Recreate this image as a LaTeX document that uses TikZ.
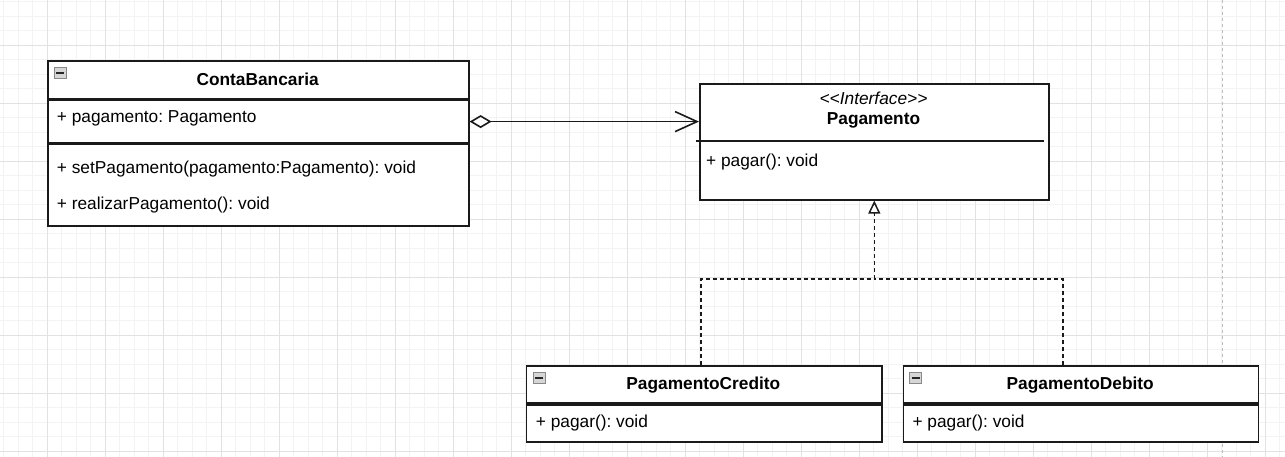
\documentclass[tikz,border=0pt]{standalone}
\usepackage{fontspec}
\setmainfont{Liberation Sans}
\usetikzlibrary{arrows.meta}
\frenchspacing

\definecolor{gridminor}{HTML}{F3F3F3}
\definecolor{gridmajor}{HTML}{E2E2E2}
\definecolor{pagebreak}{HTML}{BDBDBD}
\definecolor{umlline}{HTML}{1A1A1A}
\definecolor{iconfill}{HTML}{D6D6D6}
\definecolor{iconedge}{HTML}{888888}

\begin{document}
\begin{tikzpicture}[x=1pt,y=-1pt,
  minorline/.style={draw=gridminor, line width=0.8pt},
  majorline/.style={draw=gridmajor, line width=0.8pt},
  umlbox/.style={draw=umlline, line width=1.6pt, fill=white, rectangle,
    inner sep=0pt, anchor=north west},
  txt/.style={inner sep=0pt, font=\fontsize{17.3pt}{20pt}\selectfont, text=black},
  minusicon/.style={draw=iconedge, line width=0.8pt, fill=iconfill, rectangle,
    inner sep=0pt, minimum width=12pt, minimum height=11pt, anchor=north west,
    path picture={\draw[line width=1.8pt, black!85]
      ([xshift=2pt]path picture bounding box.west) --
      ([xshift=-2pt]path picture bounding box.east);}},
  aggregation/.style={draw=umlline, line width=1.6pt,
    {Diamond[length=22pt, width=13pt, fill=white]}-{Straight Barb[length=22pt, width=20pt]}},
  realization/.style={draw=umlline, line width=1.5pt, dash pattern=on 4pt off 3pt},
]
% canvas and grid
\useasboundingbox (0,0) rectangle (1285,457);
\fill[white] (0,0) rectangle (1285,457);
\foreach \i in {0,...,88}
  \draw[minorline] ({3.5+14.5*\i},0) -- ({3.5+14.5*\i},457);
\foreach \j in {0,...,31}
  \draw[minorline] (0,{1.8+14.5*\j}) -- (1285,{1.8+14.5*\j});
\foreach \i in {0,...,21}
  \draw[majorline] ({47+58*\i},0) -- ({47+58*\i},457);
\foreach \j in {0,...,7}
  \draw[majorline] (0,{45.3+58*\j}) -- (1285,{45.3+58*\j});
% page boundary
\draw[pagebreak, line width=0.9pt, dash pattern=on 3pt off 3pt] (1222,0) -- (1222,457);

% ContaBancaria
\node[umlbox, minimum width=420.7pt, minimum height=37.7pt] (cbT) at (47.3,60) {};
\node[umlbox, minimum width=420.7pt, minimum height=43pt] (cbA) at (cbT.south west) {};
\node[umlbox, minimum width=420.7pt, minimum height=81.3pt] (cbM) at (cbA.south west) {};
\node[minusicon] (cbI) at (54,67) {};
\node[txt, anchor=base] (cbName) at (257.65,86) {\bfseries ContaBancaria};
\node[txt, anchor=base west] (cbAttr) at (56.7,123) {+ pagamento: Pagamento};
\node[txt, anchor=base west] (cbM1) at (56.7,173.3) {+ setPagamento(pagamento:Pagamento): void};
\node[txt, anchor=base west] (cbM2) at (56.7,210) {+ realizarPagamento(): void};

% Pagamento interface
\node[umlbox, minimum width=349pt, minimum height=115.7pt] (pg) at (699,83.3) {};
\draw[umlline, line width=1.6pt] (696,141.3) -- (1044,141.3);
\node[txt, anchor=base] (pgSt) at (873.5,104.3) {\itshape <{}<Interface>{}>};
\node[txt, anchor=base] (pgName) at (873.5,124.3) {\bfseries Pagamento};
\node[txt, anchor=base west] (pgOp) at (706,167) {+ pagar(): void};

% PagamentoCredito
\node[umlbox, minimum width=355.3pt, minimum height=37.3pt] (pcT) at (525.7,365) {};
\node[umlbox, minimum width=355.3pt, minimum height=37pt] (pcA) at (pcT.south west) {};
\node[minusicon] (pcI) at (532.7,371.7) {};
\node[txt, anchor=base] (pcName) at (703.35,389.3) {\bfseries PagamentoCredito};
\node[txt, anchor=base west] (pcOp) at (535.7,427.7) {+ pagar(): void};

% PagamentoDebito
\node[umlbox, minimum width=355pt, minimum height=37.3pt] (pdT) at (902.7,365) {};
\node[umlbox, minimum width=355pt, minimum height=37pt] (pdA) at (pdT.south west) {};
\node[minusicon] (pdI) at (909.3,371.7) {};
\node[txt, anchor=base] (pdName) at (1080.2,389.3) {\bfseries PagamentoDebito};
\node[txt, anchor=base west] (pdOp) at (912.3,427.7) {+ pagar(): void};

% aggregation ContaBancaria -> Pagamento
\draw[aggregation] (cbA.east) -- (pg.west |- cbA.east);

% realization of the interface
\path (pg.south) ++(0,78.3) coordinate (bend);
\draw[realization] ([xshift=-3.35pt]pcT.north) |- (bend);
\draw[realization] ([xshift=-17.9pt]pdT.north) |- (bend);
\draw[realization, -{Triangle[open, length=13pt, width=12pt, fill=white]}] (bend) -- (pg.south);
\end{tikzpicture}
\end{document}
